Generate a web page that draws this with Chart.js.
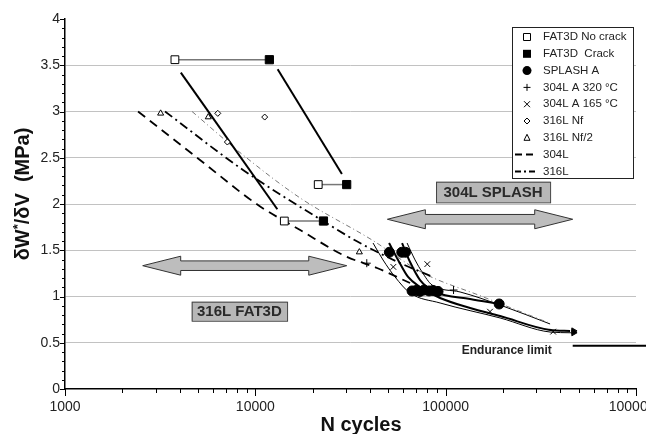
<!DOCTYPE html>
<html><head><meta charset="utf-8">
<script src="https://cdn.jsdelivr.net/npm/chart.js@4.4.0/dist/chart.umd.min.js"></script>
<style>html,body{margin:0;padding:0;overflow:hidden;background:#fff;width:646px;height:434px}
#wrap{width:690px;height:434px}</style></head>
<body><div id="wrap"><canvas id="c" width="690" height="434"></canvas></div>
<script>
const FONT = '"Liberation Sans", Arial, Helvetica, sans-serif';
const xTickValues = [1000, 10000, 100000, 1000000];
const xTickLabels = ['1000', '10000', '100000', '1000000'];
const yTickStep = 0.5;

const fat3dNoCrack = [[3780,3.56],[21400,2.21],[14200,1.816]];
const fat3dCrack = [[11850,3.56],[30200,2.21],[22800,1.816]];
const splashA = [[50600,1.478],[58800,1.478],[61500,1.478],[66600,1.06],[69900,1.065],[73400,1.055],[77000,1.07],[81800,1.06],[85900,1.065],[91200,1.055],[191000,0.919]];
const a320 = [[38500,1.36],[110000,1.07]];
const a165 = [[53100,1.32],[80100,1.35],[171000,0.836],[367000,0.62]];
const nf316 = [[6350,2.98],[11200,2.94],[7130,2.67]];
const nf2316 = [[3180,2.98],[5660,2.94],[35200,1.48]];
const curve304L = [[2420,3.0],[5120,2.476],[10330,1.989],[17200,1.719],[29600,1.438],[43600,1.308],[65000,1.146]];
const curve316L = [[3354,3.0],[8617,2.368],[22690,1.816],[35500,1.578],[57600,1.362],[85900,1.211]];
const curveThin = [[4650,3.0],[8617,2.53],[17200,2.065],[41040,1.611],[76060,1.254],[151600,1.009],[353700,0.71]];
const fat3dFitA = [[4060,3.42],[13050,1.943]];
const fat3dFitB = [[13100,3.456],[28500,2.324]];
const pairTop = [[3780,3.56],[11850,3.56]];
const pairMid = [[21400,2.21],[30200,2.21]];
const pairLow = [[14200,1.816],[22800,1.816]];
const splashFitA = [[50420,1.578],[56230,1.395],[63460,1.211],[73370,1.103],[93450,0.984],[134400,0.876],[193100,0.789],[353700,0.638],[450500,0.628]];
const splashFitB = [[59010,1.578],[65000,1.373],[73370,1.178],[87980,1.049],[134400,0.973],[191000,0.919]];
const splashLow = [[41540,1.578],[46880,1.395],[54220,1.211],[65000,1.038],[93450,0.93],[193100,0.768],[353700,0.616],[455000,0.608]];
const splashHigh = [[62700,1.578],[69060,1.395],[75160,1.265],[84840,1.124],[119000,1.049],[193100,0.908],[353700,0.703]];
const runout = [[470000,0.628],[470000,0.608]];
const endurance = [[465000,0.467],[1200000,0.467]];

const boxes = [
  {text:'304L SPLASH', x0:89000, x1:353700, y0:2.018, y1:2.241},
  {text:'316L FAT3D', x0:4630, x1:14680, y0:0.738, y1:0.944}
];
const arrows = [{x0:49400, x1:465000, y:1.835}, {x0:2560, x1:30220, y:1.333}];
const notes = [{text:'Endurance limit', x:209400, y:0.414}];
const legendItems = [
  ['FAT3D No crack','oSq'],['FAT3D  Crack','fSq'],['SPLASH A','circ'],['304L A 320 °C','plus'],
  ['304L A 165 °C','x'],['316L Nf','dia'],['316L Nf/2','tri'],['304L','dash'],['316L','dashdot']
];

const xy = a => a.map(p => ({x:p[0], y:p[1]}));
const mk = (label, data, o) => Object.assign({label, data:xy(data), showLine:false, borderColor:'#000', borderWidth:1, backgroundColor:'#000'}, o);
const ln = (label, data, o) => Object.assign({label, data:xy(data), showLine:true, pointRadius:0, borderColor:'#000', borderWidth:1, fill:false, cubicInterpolationMode:'monotone'}, o);

const datasets = [
  mk('FAT3D No crack', fat3dNoCrack, {pointStyle:'rect', pointRadius:5.5, backgroundColor:'#fff'}),
  mk('FAT3D Crack', fat3dCrack, {pointStyle:'rect', pointRadius:5.8}),
  mk('SPLASH A', splashA, {pointStyle:'circle', pointRadius:5}),
  mk('304L A 320 °C', a320, {pointStyle:'cross', pointRadius:4}),
  mk('304L A 165 °C', a165, {pointStyle:'crossRot', pointRadius:4}),
  mk('316L Nf', nf316, {pointStyle:'rectRot', pointRadius:3, backgroundColor:'#fff'}),
  mk('316L Nf/2', nf2316, {pointStyle:'triangle', pointRadius:3.5, backgroundColor:'#fff'}),
  mk('runout', runout, {pointStyle:'triangle', pointRotation:90, pointRadius:3.5}),
  ln('pairTop', pairTop, {borderColor:'#777', borderWidth:1.5}),
  ln('pairMid', pairMid, {borderColor:'#777', borderWidth:1.5}),
  ln('pairLow', pairLow, {borderColor:'#777', borderWidth:1.5}),
  ln('fitA', fat3dFitA, {borderWidth:2}),
  ln('fitB', fat3dFitB, {borderWidth:2}),
  ln('304L', curve304L, {borderWidth:1.8, borderDash:[9,6]}),
  ln('316L', curve316L, {borderWidth:1.8, borderDash:[9,4,2,4]}),
  ln('thin', curveThin, {borderWidth:1, borderColor:'#777', borderDash:[5,3,1,3]}),
  ln('splashFitA', splashFitA, {borderWidth:2}),
  ln('splashFitB', splashFitB, {borderWidth:2}),
  ln('splashLow', splashLow, {borderWidth:1}),
  ln('splashHigh', splashHigh, {borderWidth:1}),
  ln('endurance', endurance, {borderWidth:2, clip:false, cubicInterpolationMode:'default'})
];

const deco = {
  id:'deco',
  beforeDatasetsDraw(chart){
    const {ctx, scales:{x, y}} = chart;
    ctx.save();
    arrows.forEach(a => {
      const x0 = x.getPixelForValue(a.x0), x1 = x.getPixelForValue(a.x1), yc = y.getPixelForValue(a.y);
      const hl = 38, hh = 9.5, sh = 4.8;
      ctx.beginPath();
      ctx.moveTo(x0, yc); ctx.lineTo(x0+hl, yc-hh); ctx.lineTo(x0+hl, yc-sh); ctx.lineTo(x1-hl, yc-sh);
      ctx.lineTo(x1-hl, yc-hh); ctx.lineTo(x1, yc); ctx.lineTo(x1-hl, yc+hh); ctx.lineTo(x1-hl, yc+sh);
      ctx.lineTo(x0+hl, yc+sh); ctx.lineTo(x0+hl, yc+hh); ctx.closePath();
      ctx.fillStyle = '#bdbdbd'; ctx.fill(); ctx.strokeStyle = '#333'; ctx.lineWidth = 1; ctx.stroke();
    });
    boxes.forEach(b => {
      const x0 = x.getPixelForValue(b.x0), x1 = x.getPixelForValue(b.x1);
      const y0 = y.getPixelForValue(b.y1), y1 = y.getPixelForValue(b.y0);
      ctx.fillStyle = '#b7b7b7'; ctx.fillRect(x0, y0, x1-x0, y1-y0);
      ctx.strokeStyle = '#444'; ctx.lineWidth = 1; ctx.strokeRect(x0+0.5, y0+0.5, x1-x0, y1-y0);
      ctx.fillStyle = '#2a2a2a'; ctx.font = 'bold 15px ' + FONT; ctx.textAlign = 'center'; ctx.textBaseline = 'middle';
      ctx.fillText(b.text, (x0+x1)/2, (y0+y1)/2 + 1);
    });
    notes.forEach(n => {
      ctx.fillStyle = '#222'; ctx.font = 'bold 12px ' + FONT; ctx.textAlign = 'center'; ctx.textBaseline = 'middle';
      ctx.fillText(n.text, x.getPixelForValue(n.x), y.getPixelForValue(n.y));
    });
    ctx.restore();
  },
  afterDatasetsDraw(chart){
    const {ctx, chartArea:ca} = chart;
    ctx.save();
    const L = ca.right - 124, T = ca.top + 8, W = 121, H = 151;
    ctx.fillStyle = '#fff'; ctx.fillRect(L, T, W, H);
    ctx.strokeStyle = '#222'; ctx.lineWidth = 1; ctx.strokeRect(L+0.5, T+0.5, W, H);
    ctx.font = '11.5px ' + FONT; ctx.textAlign = 'left'; ctx.textBaseline = 'middle';
    legendItems.forEach((it, i) => {
      const cy = T + 10 + i*16.8, cx = L + 15, tx = L + 31;
      ctx.strokeStyle = '#000'; ctx.fillStyle = '#000'; ctx.lineWidth = 1; ctx.setLineDash([]);
      const k = it[1];
      ctx.beginPath();
      if (k === 'oSq') { ctx.rect(cx-3.5, cy-3.5, 7, 7); ctx.stroke(); }
      else if (k === 'fSq') { ctx.fillRect(cx-4, cy-4, 8, 8); }
      else if (k === 'circ') { ctx.arc(cx, cy, 4.5, 0, Math.PI*2); ctx.fill(); }
      else if (k === 'plus') { ctx.moveTo(cx-3.5, cy); ctx.lineTo(cx+3.5, cy); ctx.moveTo(cx, cy-3.5); ctx.lineTo(cx, cy+3.5); ctx.stroke(); }
      else if (k === 'x') { ctx.moveTo(cx-3, cy-3); ctx.lineTo(cx+3, cy+3); ctx.moveTo(cx+3, cy-3); ctx.lineTo(cx-3, cy+3); ctx.stroke(); }
      else if (k === 'dia') { ctx.moveTo(cx, cy-3); ctx.lineTo(cx+3, cy); ctx.lineTo(cx, cy+3); ctx.lineTo(cx-3, cy); ctx.closePath(); ctx.stroke(); }
      else if (k === 'tri') { ctx.moveTo(cx, cy-3.5); ctx.lineTo(cx+3, cy+2.5); ctx.lineTo(cx-3, cy+2.5); ctx.closePath(); ctx.stroke(); }
      else if (k === 'dash') { ctx.lineWidth = 2; ctx.setLineDash([7,4]); ctx.moveTo(L+3, cy); ctx.lineTo(L+25, cy); ctx.stroke(); }
      else if (k === 'dashdot') { ctx.lineWidth = 2; ctx.setLineDash([6,3,2,3]); ctx.moveTo(L+3, cy); ctx.lineTo(L+25, cy); ctx.stroke(); }
      ctx.setLineDash([]);
      ctx.fillStyle = '#222';
      ctx.fillText(it[0], tx, cy);
    });
    ctx.restore();
  },
  afterDraw(chart){
    const {ctx, chartArea:ca, scales:{x, y}} = chart;
    ctx.save();
    ctx.strokeStyle = '#000'; ctx.lineWidth = 1;
    ctx.beginPath();
    for (let i = 0; i <= 40; i++) {
      const v = i / 10, py = Math.round(y.getPixelForValue(v)) + 0.5;
      const len = (i % 5 === 0) ? 5 : 3;
      ctx.moveTo(ca.left - len, py); ctx.lineTo(ca.left, py);
    }
    for (let d = 1000; d < 1000000; d *= 10) {
      for (let k = 1; k <= 9; k++) {
        const px = Math.round(x.getPixelForValue(k*d)) + 0.5, len = k === 1 ? 7 : 4;
        ctx.moveTo(px, ca.bottom); ctx.lineTo(px, ca.bottom + len);
      }
    }
    const pxe = Math.round(x.getPixelForValue(1000000)) + 0.5;
    ctx.moveTo(pxe, ca.bottom); ctx.lineTo(pxe, ca.bottom + 7);
    ctx.stroke();
    ctx.fillStyle = '#111';
    ctx.textBaseline = 'middle'; ctx.textAlign = 'center';
    ctx.font = 'bold 20px ' + FONT;
    ctx.fillText('N cycles', 361, 425);
    ctx.translate(23, 194); ctx.rotate(-Math.PI/2);
    const p1 = 'δW', p2 = '*', p3 = '/δV  (MPa)';
    ctx.font = 'bold 20px ' + FONT; const w1 = ctx.measureText(p1).width, w3 = ctx.measureText(p3).width;
    ctx.font = 'bold 13px ' + FONT; const w2 = ctx.measureText(p2).width;
    let sx = -(w1 + w2 + w3) / 2;
    ctx.textAlign = 'left';
    ctx.font = 'bold 20px ' + FONT; ctx.fillText(p1, sx, 0); sx += w1;
    ctx.font = 'bold 13px ' + FONT; ctx.fillText(p2, sx, -5); sx += w2;
    ctx.font = 'bold 20px ' + FONT; ctx.fillText(p3, sx, 0);
    ctx.restore();
  }
};

new Chart(document.getElementById('c'), {
  type:'scatter',
  data:{datasets},
  options:{
    responsive:false, animation:false, events:[],
    layout:{padding:{left:0, top:19, right:54, bottom:0}},
    plugins:{legend:{display:false}, tooltip:{enabled:false}},
    scales:{
      x:{type:'logarithmic', min:1000, max:1000000,
        grid:{display:false, drawTicks:false},
        border:{display:true, color:'#000', width:1.5},
        ticks:{autoSkip:false, maxRotation:0, padding:10, color:'#222', font:{family:FONT, size:14},
          callback:(v) => { const i = xTickValues.findIndex(t => Math.abs(t - v) < 1e-6*t); return i >= 0 ? xTickLabels[i] : ''; }},
        afterFit:(s) => { s.height = 45; }
      },
      y:{type:'linear', min:0, max:4,
        grid:{drawTicks:false, lineWidth:1, color:(c) => (c.tick && (c.tick.value === 0 || c.tick.value === 4)) ? 'rgba(0,0,0,0)' : '#c2c2c2'},
        border:{display:true, color:'#000', width:1.5},
        ticks:{stepSize:yTickStep, padding:5, color:'#222', font:{family:FONT, size:14},
          callback:(v) => String(Math.round(v * 10) / 10)},
        afterFit:(s) => { s.width = 65; }
      }
    }
  },
  plugins:[deco]
});
</script></body></html>
